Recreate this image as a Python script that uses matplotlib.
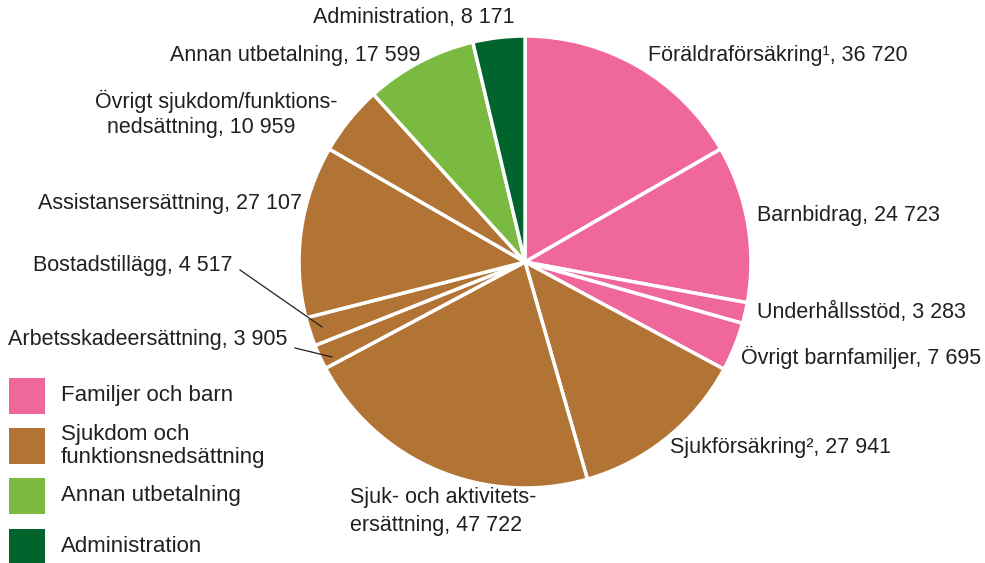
import matplotlib
matplotlib.use("Agg")
import matplotlib.pyplot as plt
from matplotlib.patches import Rectangle

plt.rcParams['font.family'] = ['Liberation Sans', 'DejaVu Sans']

labels = ["Föräldraförsäkring¹", "Barnbidrag", "Underhållsstöd", "Övrigt barnfamiljer",
          "Sjukförsäkring²", "Sjuk- och aktivitetsersättning", "Arbetsskadeersättning",
          "Bostadstillägg", "Assistansersättning", "Övrigt sjukdom/funktionsnedsättning",
          "Annan utbetalning", "Administration"]
values = [36720, 24723, 3283, 7695, 27941, 47722, 3905, 4517, 27107, 10959, 17599, 8171]
groups = ["fam", "fam", "fam", "fam", "sjuk", "sjuk", "sjuk", "sjuk", "sjuk", "sjuk", "annan", "adm"]
legend_labels = ["Familjer och barn", "Sjukdom och\nfunktionsnedsättning", "Annan utbetalning", "Administration"]
group_keys = ["fam", "sjuk", "annan", "adm"]
group_colors = {"fam": "#F0679B", "sjuk": "#B27434", "annan": "#7BBA40", "adm": "#00642C"}

W, H = 985, 563
fig = plt.figure(figsize=(W / 100, H / 100), dpi=100)
ax = fig.add_axes([0, 0, 1, 1])

def Y(y):
    return H - y

cx, cy, r = 525, 262, 226
ax.pie(values, colors=[group_colors[g] for g in groups], startangle=90, counterclock=False,
       center=(cx, Y(cy)), radius=r, frame=True,
       wedgeprops=dict(edgecolor="white", linewidth=2.5))
ax.set_xlim(0, W)
ax.set_ylim(0, H)
ax.set_aspect("equal")
ax.axis("off")

tc = "#231F20"
fs = 15.5
def fmt(v):
    return f"{v:,}".replace(",", " ")

texts = [
    (313, 17, f"Administration, {fmt(values[11])}"),
    (648, 55, f"{labels[0]}, {fmt(values[0])}"),
    (170, 55, f"{labels[10]}, {fmt(values[10])}"),
    (95, 101, "Övrigt sjukdom/funktions-"),
    (107, 128, f"nedsättning, {fmt(values[9])}"),
    (38, 203, f"{labels[8]}, {fmt(values[8])}"),
    (33, 265, f"{labels[7]}, {fmt(values[7])}"),
    (8, 340, f"{labels[6]}, {fmt(values[6])}"),
    (757, 215, f"{labels[1]}, {fmt(values[1])}"),
    (757, 312, f"{labels[2]}, {fmt(values[2])}"),
    (741, 357, f"{labels[3]}, {fmt(values[3])}"),
    (670, 447, f"{labels[4]}, {fmt(values[4])}"),
    (350, 498, "Sjuk- och aktivitets-"),
    (350, 525, f"ersättning, {fmt(values[5])}"),
]
for x, y, s in texts:
    ax.text(x, Y(y), s, fontsize=fs, color=tc, ha="left", va="center")

# leader lines
ax.plot([240, 322], [Y(270), Y(327)], color=tc, lw=0.9)
ax.plot([295, 332], [Y(348), Y(357)], color=tc, lw=0.9)

# legend
ys = [378, 428, 478, 529]
for y, k, lab in zip(ys, group_keys, legend_labels):
    ax.add_patch(Rectangle((9, Y(y + 36)), 36, 36, color=group_colors[k], lw=0))
    ax.text(61, Y(y + 18), lab, fontsize=16, color=tc, ha="left", va="center", linespacing=1.1)

fig.savefig("out.png", dpi=100)
